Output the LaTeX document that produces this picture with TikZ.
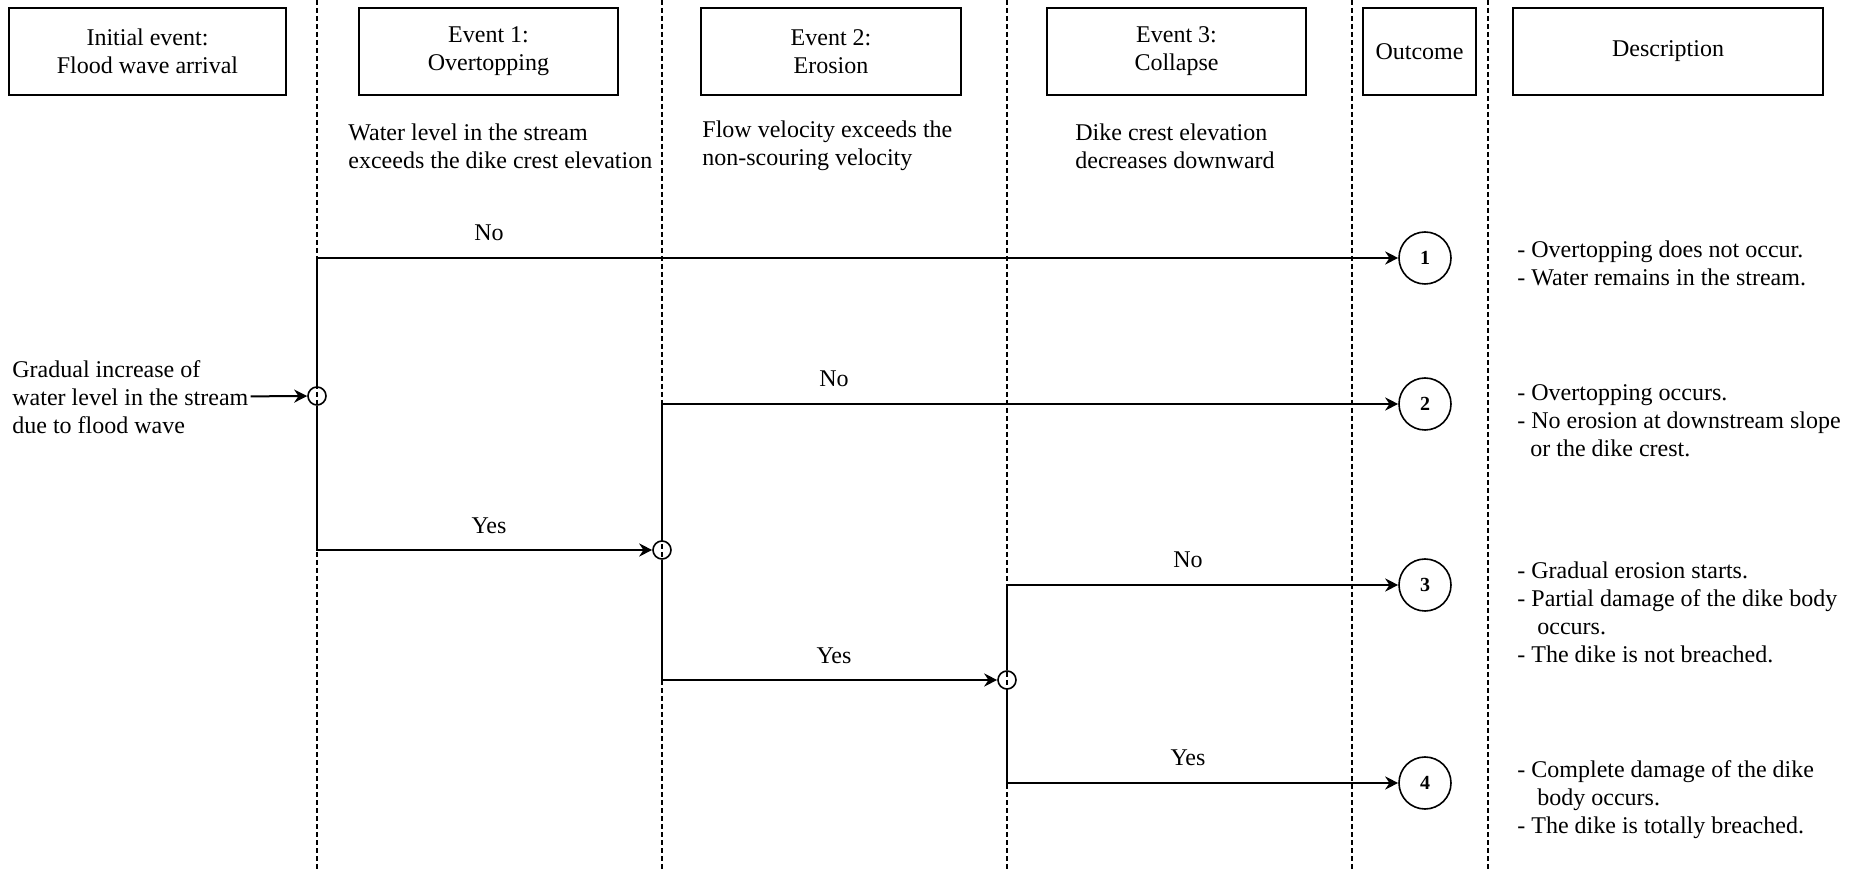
\documentclass[tikz,border=0pt]{standalone}
\usepackage{fontspec}
\setmainfont{Liberation Serif}
\usetikzlibrary{arrows.meta}

\tikzset{
  head/.style={draw, line width=0.9pt, minimum height=43.5pt, align=center, inner sep=2pt},
  cond/.style={anchor=west, align=left, inner sep=0pt},
  desc/.style={anchor=west, align=left, inner sep=0pt},
  guide/.style={line width=0.7pt, dash pattern=on 2.5pt off 1.5pt},
  fork/.style={circle, draw, line width=0.8pt, minimum size=9pt, inner sep=0pt},
  outc/.style={circle, draw, line width=0.8pt, minimum size=26pt, inner sep=0pt, font=\bfseries},
  branch/.style={line width=1pt, -{Stealth[length=6.5pt,width=6.5pt]}},
  lbl/.style={inner sep=0pt}
}

\begin{document}
\begin{tikzpicture}[x=0.5pt, y=-0.5pt, font=\fontsize{12}{14}\selectfont]
  \useasboundingbox (0,0) rectangle (1863,870);

  % column separators
  \foreach \x in {317,662,1007,1352,1488}
    \draw[guide] (\x,0) -- (\x,870);

  % headers
  \node[head, minimum width=138.5pt] (hinit) at (147.5,51.5) {Initial event:\\Flood wave arrival};
  \node[head, minimum width=129.5pt] (hev1) at (488.5,51.5) {Event 1:\\Overtopping};
  \node[head, minimum width=130pt] (hev2) at (831,51.5) {Event 2:\\Erosion};
  \node[head, minimum width=129.5pt] (hev3) at (1176.5,51.5) {Event 3:\\Collapse};
  \node[head, minimum width=56.5pt] (hout) at (1419.5,51.5) {Outcome};
  \node[head, minimum width=155pt] (hdesc) at (1668,51.5) {Description};

  % conditions
  \node[cond] (c1) at (348,146) {Water level in the stream\\exceeds the dike crest elevation};
  \node[cond] (c2) at (702,146) {Flow velocity exceeds the\\non-scouring velocity};
  \node[cond] (c3) at (1075,146) {Dike crest elevation\\decreases downward};

  % initial event
  \node[anchor=west, align=left, inner sep=1pt] (src) at (10,397) {Gradual increase of\\water level in the stream\\due to flood wave};

  % forks and outcomes
  \node[fork] (f0) at (317,396) {};
  \node[fork] (f1) at (662,550) {};
  \node[fork] (f2) at (1007,680) {};
  \node[outc] (o1) at (1425,258) {1};
  \node[outc] (o2) at (1425,404) {2};
  \node[outc] (o3) at (1425,585) {3};
  \node[outc] (o4) at (1425,783) {4};

  \draw[branch] (src) -- (f0);
  \draw[branch] (f0.north) |- (o1);
  \draw[branch] (f0.south) |- (f1);
  \draw[branch] (f1.north) |- (o2);
  \draw[branch] (f1.south) |- (f2);
  \draw[branch] (f2.north) |- (o3);
  \draw[branch] (f2.south) |- (o4);

  \node[lbl] (no1) at (489,233) {No};
  \node[lbl] (yes1) at (489,526) {Yes};
  \node[lbl] (no2) at (834,379) {No};
  \node[lbl] (yes2) at (834,656) {Yes};
  \node[lbl] (no3) at (1188,560) {No};
  \node[lbl] (yes3) at (1188,758) {Yes};

  % descriptions
  \node[desc] (d1) at (1517,263) {- Overtopping does not occur.\\- Water remains in the stream.};
  \node[desc] (d2) at (1517,421) {- Overtopping occurs.\\- No erosion at downstream slope\\\hspace*{6.5pt}or the dike crest.};
  \node[desc] (d3) at (1517,612) {- Gradual erosion starts.\\- Partial damage of the dike body\\\hspace*{10pt}occurs.\\- The dike is not breached.};
  \node[desc] (d4) at (1517,800) {- Complete damage of the dike\\\hspace*{10pt}body occurs.\\- The dike is totally breached.};

\end{tikzpicture}
\end{document}
